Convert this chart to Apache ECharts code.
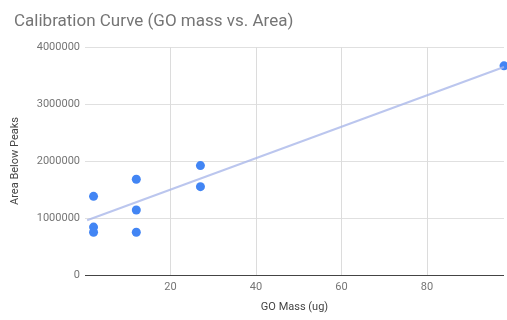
<!DOCTYPE html>
<html><head><meta charset="utf-8">
<script src="https://cdn.jsdelivr.net/npm/echarts@6/dist/echarts.min.js"></script>
<style>html,body{margin:0;padding:0;background:#fff}#c{width:507px;height:320px}</style>
</head><body><div id="c"></div>
<script>
var massX = [2, 2, 2, 12, 12, 12, 27, 27, 98];
var areaY = [1380000, 840000, 750000, 1680000, 1140000, 750000, 1920000, 1550000, 3670000];
var trendX = [0.5, 98];
var trendY = [960000, 3650000];
var xTicks = [20, 40, 60, 80];
var yTicks = [0, 1000000, 2000000, 3000000, 4000000];

var pts = massX.map(function(x, i){ return [x, areaY[i]]; });
var trend = trendX.map(function(x, i){ return [x, trendY[i]]; });

var chart = echarts.init(document.getElementById('c'));
chart.setOption({
  animation: false,
  title: {
    text: 'Calibration Curve (GO mass vs. Area)',
    left: 9, top: 8,
    textStyle: {fontFamily: 'Roboto', fontSize: 17, fontWeight: 'normal', color: '#757575'}
  },
  grid: {left: 85, right: 2, top: 47, bottom: 45},
  xAxis: {
    type: 'value', min: 0, max: 98, interval: 20,
    name: 'GO Mass (ug)', nameLocation: 'middle', nameGap: 27,
    nameTextStyle: {fontFamily: 'Roboto', fontSize: 11, color: '#444'},
    axisLine: {show: false},
    axisTick: {show: false},
    axisLabel: {
      margin: 7, fontFamily: 'Roboto', fontSize: 11, color: '#757575',
      formatter: function(v){ return xTicks.indexOf(v) >= 0 ? String(v) : ''; }
    },
    splitLine: {showMinLine: false, showMaxLine: false, lineStyle: {color: '#dcdcdc'}}
  },
  yAxis: {
    type: 'value', min: 0, max: 4000000, interval: 1000000,
    name: 'Area Below Peaks', nameLocation: 'middle', nameGap: 64,
    nameTextStyle: {fontFamily: 'Roboto', fontSize: 11, color: '#444'},
    axisLine: {show: false},
    axisTick: {show: false},
    axisLabel: {
      margin: 5, fontFamily: 'Roboto', fontSize: 11, color: '#757575',
      formatter: function(v){ return yTicks.indexOf(v) >= 0 ? String(v) : ''; }
    },
    splitLine: {lineStyle: {color: '#e0e0e0'}}
  },
  series: [
    {
      type: 'line', data: trend, symbol: 'none', silent: true,
      lineStyle: {color: '#aab8ea', width: 2, opacity: 0.8},
      markLine: {
        silent: true, symbol: 'none', label: {show: false},
        lineStyle: {color: '#444', width: 1, type: 'solid'},
        data: [{yAxis: 0}]
      }
    },
    {
      type: 'scatter', data: pts, symbolSize: 9,
      itemStyle: {color: '#4285f4', opacity: 1}
    }
  ]
});
</script>
</body></html>
